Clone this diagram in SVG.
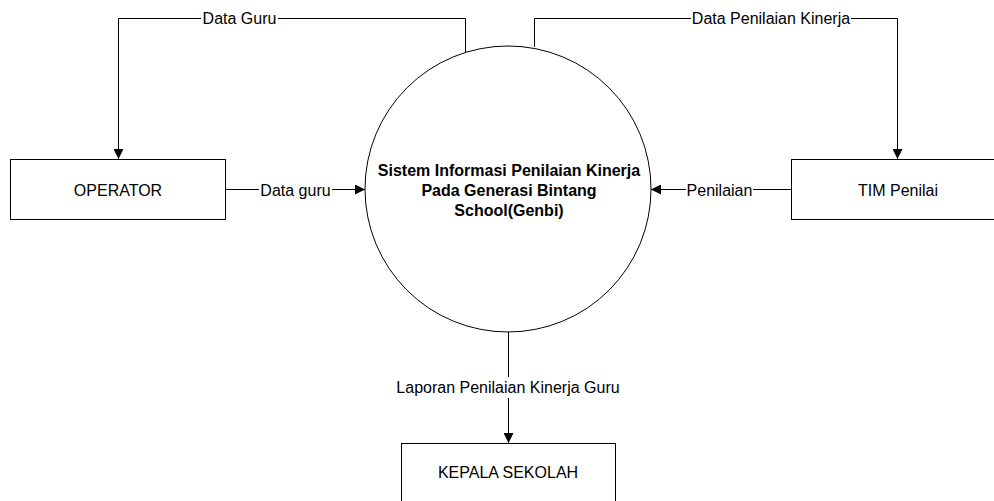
<svg xmlns="http://www.w3.org/2000/svg" width="994" height="501" viewBox="0 0 994 501">
<defs>
<marker id="arr" viewBox="0 0 10 10" refX="10" refY="5" markerWidth="10" markerHeight="10" markerUnits="userSpaceOnUse" orient="auto"><path d="M0,0 L10,5 L0,10 z" fill="#000"/></marker>
<style>
.box{fill:#fff;stroke:#000;stroke-width:1}
.ln{fill:none;stroke:#000;stroke-width:1}
.t{font-family:"Liberation Sans",Arial,sans-serif;font-size:16px;fill:#000;text-anchor:middle}
.b{font-weight:bold}
.lbl{fill:#fff;stroke:none}
</style>
</defs>
<rect width="994" height="501" fill="#fff"/>
<g id="connectors">
<path class="ln" d="M465.5,52 V18.5 H118.5 V159" marker-end="url(#arr)"/>
<path class="ln" d="M534.5,47 V18.5 H897.5 V159" marker-end="url(#arr)"/>
<path class="ln" d="M225,189.5 H365" marker-end="url(#arr)"/>
<path class="ln" d="M791,189.5 H651" marker-end="url(#arr)"/>
<path class="ln" d="M508.5,332 V443" marker-end="url(#arr)"/>
<rect class="lbl" x="201" y="10" width="77" height="16"/>
<text class="t" x="239.5" y="24">Data Guru</text>
<rect class="lbl" x="691" y="10" width="160" height="16"/>
<text class="t" x="771" y="24">Data Penilaian Kinerja</text>
<rect class="lbl" x="259" y="182" width="73" height="16"/>
<text class="t" x="295.5" y="196">Data guru</text>
<rect class="lbl" x="686" y="182" width="67" height="16"/>
<text class="t" x="719.5" y="196">Penilaian</text>
<rect class="lbl" x="394" y="377" width="230" height="21"/>
<text class="t" x="508" y="393">Laporan Penilaian Kinerja Guru</text>
</g>
<g id="operator">
<rect class="box" x="10.5" y="159.5" width="215" height="60"/>
<text class="t" x="118" y="196">OPERATOR</text>
</g>
<g id="tim-penilai">
<rect class="box" x="791.5" y="159.5" width="215" height="60"/>
<text class="t" x="898" y="196">TIM Penilai</text>
</g>
<g id="kepala-sekolah">
<rect class="box" x="401.5" y="443.5" width="214" height="70"/>
<text class="t" x="508" y="478">KEPALA SEKOLAH</text>
</g>
<g id="process">
<circle class="box" cx="508" cy="189" r="143"/>
<text class="t b" x="509" y="176">Sistem Informasi Penilaian Kinerja</text>
<text class="t b" x="509" y="196">Pada Generasi Bintang</text>
<text class="t b" x="509" y="216">School(Genbi)</text>
</g>
</svg>
